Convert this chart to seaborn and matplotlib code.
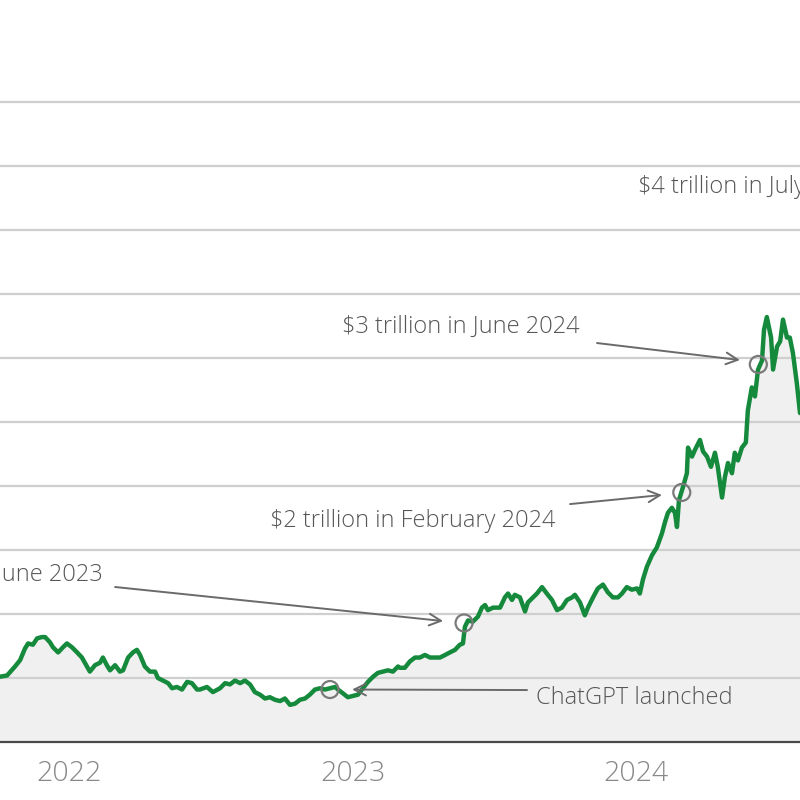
import matplotlib
matplotlib.use("Agg")
import matplotlib.pyplot as plt
import seaborn as sns
import pandas as pd

# Nvidia market value, trillions of US dollars (decimal year, value)
years = [
    2021.755, 2021.780, 2021.808, 2021.826, 2021.843, 2021.854, 2021.871, 2021.886, 2021.903, 2021.914,
    2021.931, 2021.942, 2021.960, 2021.977, 2021.991, 2022.009, 2022.027, 2022.044, 2022.062, 2022.072,
    2022.090, 2022.108, 2022.118, 2022.132, 2022.143, 2022.161, 2022.178, 2022.189, 2022.207, 2022.224,
    2022.238, 2022.249, 2022.266, 2022.284, 2022.302, 2022.312, 2022.330, 2022.348, 2022.362, 2022.379,
    2022.397, 2022.415, 2022.432, 2022.450, 2022.460, 2022.485, 2022.506, 2022.531, 2022.549, 2022.566,
    2022.584, 2022.602, 2022.619, 2022.637, 2022.654, 2022.672, 2022.690, 2022.707, 2022.725, 2022.743,
    2022.760, 2022.778, 2022.796, 2022.813, 2022.831, 2022.848, 2022.866, 2022.884, 2022.901, 2022.919,
    2022.937, 2022.947, 2022.965, 2022.982, 2023.000, 2023.018, 2023.035, 2023.053, 2023.071, 2023.088,
    2023.106, 2023.123, 2023.141, 2023.159, 2023.166, 2023.183, 2023.201, 2023.219, 2023.236, 2023.254,
    2023.272, 2023.289, 2023.307, 2023.325, 2023.342, 2023.360, 2023.377, 2023.388, 2023.395, 2023.406,
    2023.423, 2023.441, 2023.455, 2023.466, 2023.476, 2023.494, 2023.519, 2023.536, 2023.547, 2023.561,
    2023.571, 2023.589, 2023.607, 2023.617, 2023.635, 2023.649, 2023.667, 2023.684, 2023.702, 2023.720,
    2023.737, 2023.755, 2023.773, 2023.783, 2023.801, 2023.818, 2023.829, 2023.847, 2023.864, 2023.882,
    2023.899, 2023.917, 2023.935, 2023.949, 2023.966, 2023.984, 2024.002, 2024.012, 2024.023, 2024.037,
    2024.055, 2024.072, 2024.090, 2024.101, 2024.111, 2024.125, 2024.136, 2024.143, 2024.150, 2024.164,
    2024.178, 2024.182, 2024.196, 2024.206, 2024.224, 2024.235, 2024.249, 2024.263, 2024.277, 2024.287,
    2024.302, 2024.312, 2024.323, 2024.337, 2024.347, 2024.358, 2024.372, 2024.386, 2024.393, 2024.407,
    2024.418, 2024.429, 2024.443, 2024.450, 2024.460, 2024.475, 2024.482, 2024.496, 2024.507, 2024.517,
    2024.531, 2024.541, 2024.552, 2024.566, 2024.577,
]
market_cap = [
    0.51, 0.52, 0.59, 0.64, 0.73, 0.77, 0.76, 0.81, 0.82, 0.82,
    0.78, 0.74, 0.70, 0.74, 0.77, 0.74, 0.70, 0.66, 0.59, 0.55,
    0.60, 0.62, 0.66, 0.60, 0.56, 0.60, 0.55, 0.56, 0.66, 0.70,
    0.72, 0.68, 0.59, 0.55, 0.55, 0.50, 0.48, 0.46, 0.42, 0.43,
    0.41, 0.47, 0.46, 0.41, 0.41, 0.43, 0.39, 0.42, 0.46, 0.45,
    0.48, 0.46, 0.48, 0.45, 0.39, 0.37, 0.34, 0.35, 0.33, 0.32,
    0.34, 0.29, 0.30, 0.33, 0.34, 0.37, 0.41, 0.42, 0.41, 0.42,
    0.43, 0.41, 0.38, 0.35, 0.36, 0.37, 0.42, 0.47, 0.51, 0.54,
    0.55, 0.56, 0.55, 0.59, 0.58, 0.58, 0.63, 0.66, 0.66, 0.68,
    0.66, 0.66, 0.66, 0.68, 0.70, 0.72, 0.76, 0.77, 0.90, 0.95,
    0.94, 0.98, 1.05, 1.07, 1.03, 1.05, 1.05, 1.13, 1.16, 1.11,
    1.15, 1.13, 1.02, 1.09, 1.13, 1.16, 1.21, 1.16, 1.11, 1.03,
    1.05, 1.11, 1.13, 1.15, 1.09, 0.99, 1.05, 1.13, 1.20, 1.23,
    1.17, 1.13, 1.13, 1.16, 1.21, 1.19, 1.20, 1.16, 1.27, 1.37,
    1.46, 1.52, 1.63, 1.72, 1.79, 1.83, 1.79, 1.68, 1.89, 1.99,
    2.10, 2.30, 2.23, 2.28, 2.36, 2.27, 2.23, 2.15, 2.26, 2.15,
    1.91, 2.07, 2.18, 2.10, 2.26, 2.20, 2.30, 2.34, 2.59, 2.77,
    2.70, 2.91, 2.98, 3.22, 3.32, 3.16, 2.91, 3.09, 3.13, 3.30,
    3.16, 3.16, 3.04, 2.80, 2.57,
]

grid_values = [0.5, 1.0, 1.5, 2.0, 2.5, 3.0, 3.5, 4.0, 4.5, 5.0]
year_ticks = [2022, 2023, 2024]
year_labels = ["2022", "2023", "2024"]

milestone_labels = ["ChatGPT launched", "$1 trillion in June 2023",
                    "$2 trillion in February 2024", "$3 trillion in June 2024"]
circle_x = [2022.919, 2023.392, 2024.160, 2024.430]
circle_y = [0.41, 0.93, 1.95, 2.95]
tail_x = [2023.614, 2022.161, 2023.766, 2023.861]
tail_y = [0.406, 1.211, 1.859, 3.117]
head_x = [2022.997, 2023.318, 2024.090, 2024.365]
head_y = [0.41, 0.945, 1.930, 2.984]
text_x = [2023.646, 2022.118, 2022.707, 2022.961]
text_y = [0.344, 1.305, 1.727, 3.242]
text_ha = ["left", "right", "left", "left"]

extra_label = "$4 trillion in July 2025"
extra_x, extra_y = 2024.005, 4.336

df = pd.DataFrame({"year": years, "cap": market_cap})

sns.set_theme(style="white")
plt.rcParams["font.family"] = ["Open Sans", "DejaVu Sans"]

fig = plt.figure(figsize=(8, 8), dpi=100)
ax = fig.add_axes([0, 0, 1, 1])
ax.set_xlim(2021.755, 2024.577)
ax.set_ylim(-0.453, 5.797)
for s in ax.spines.values():
    s.set_visible(False)
ax.set_xticks([])
ax.set_yticks([])

ax.fill_between(df["year"], 0, df["cap"], color="#f0f0f0", zorder=1, linewidth=0)
for g in grid_values:
    ax.axhline(g, color="#cfcfcf", lw=1.6, zorder=1.5)
ax.axhline(0, color="#4a4a4a", lw=1.6, zorder=2)

sns.lineplot(data=df, x="year", y="cap", ax=ax, color="#168a3c", lw=3.2, zorder=3)
ax.set_xlabel("")
ax.set_ylabel("")

ax.scatter(circle_x, circle_y, s=150, facecolors="none", edgecolors="#7a7a7a",
           linewidths=1.6, zorder=4)

for lab, tx, ty, ax0, ay0, hx, hy, ha in zip(milestone_labels, text_x, text_y,
                                              tail_x, tail_y, head_x, head_y, text_ha):
    ax.annotate("", xy=(hx, hy), xytext=(ax0, ay0),
                arrowprops=dict(arrowstyle="->,head_length=0.7,head_width=0.35",
                                color="#6a6a6a", lw=1.4, shrinkA=0, shrinkB=0),
                zorder=4)
    ax.text(tx, ty, lab, ha=ha, va="center", fontsize=17, color="#575757",
            fontweight="light", zorder=5)

ax.text(extra_x, extra_y, extra_label, ha="left", va="center", fontsize=17,
        color="#575757", fontweight="light", zorder=5)

for yt, yl in zip(year_ticks, year_labels):
    ax.text(yt, -0.25, yl, ha="center", va="center", fontsize=20.5,
            color="#888888", fontweight="light")

fig.savefig("out.png", dpi=100)
